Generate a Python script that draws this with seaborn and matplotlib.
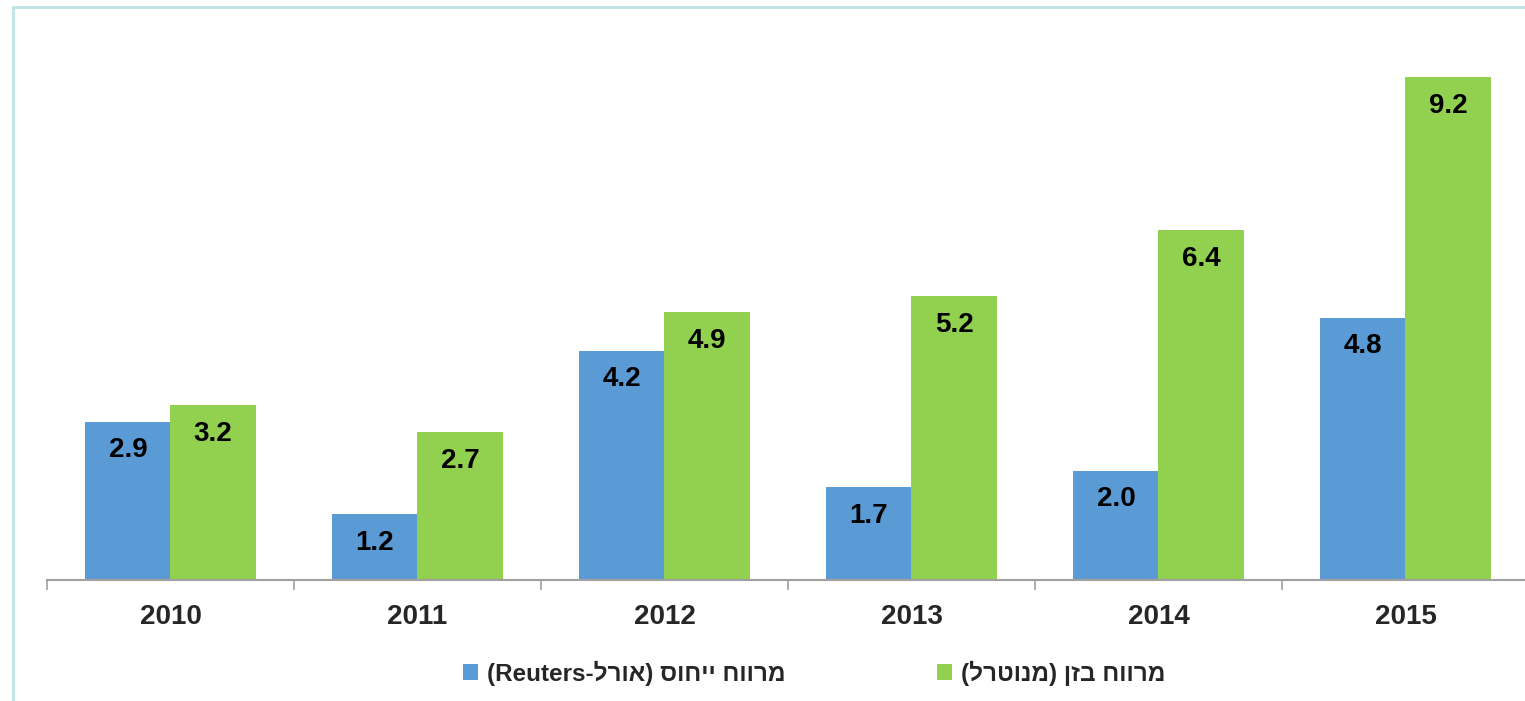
import pandas as pd
import numpy as np
import matplotlib
matplotlib.use('Agg')
import matplotlib.pyplot as plt
from matplotlib.lines import Line2D
from matplotlib.patches import Patch
import seaborn as sns
import re

# chart data
years = ['2010', '2011', '2012', '2013', '2014', '2015']
spread_reuters = [2.9, 1.2, 4.2, 1.7, 2.0, 4.8]
spread_bazan = [3.2, 2.7, 4.9, 5.2, 6.4, 9.2]
series_names = ['מרווח ייחוס (אורל-Reuters)', 'מרווח בזן (מנוטרל)']
series_colors = ['#5B9BD5', '#92D050']


def visual_rtl(text):
    # matplotlib has no bidi support: reverse the string, put latin runs back
    rev = text[::-1]
    rev = re.sub(r'[A-Za-z0-9.]+', lambda m: m.group(0)[::-1], rev)
    return rev.translate(str.maketrans('()', ')('))


df = pd.DataFrame({
    'Year': years * 2,
    'Value': spread_reuters + spread_bazan,
    'Series': [series_names[0]] * len(years) + [series_names[1]] * len(years),
})

sns.set_style('white')
plt.rcParams['font.family'] = ['Liberation Sans', 'DejaVu Sans']
plt.rcParams['font.weight'] = 'bold'

fig = plt.figure(figsize=(15.25, 7.01), dpi=100)
ax = fig.add_axes([47 / 1525, 121 / 701, (1529 - 47) / 1525, 560 / 701])

sns.barplot(data=df, x='Year', y='Value', hue='Series', hue_order=series_names,
            palette=series_colors, width=0.69, gap=0, saturation=1,
            edgecolor='none', linewidth=0, ax=ax, legend=False)

ax.set_xlim(-0.5, 5.5)
ax.set_ylim(0, 10.25)

# value labels inside the top of each bar
for cont in ax.containers:
    ax.bar_label(cont, fmt='%.1f', padding=-30, fontsize=20, fontweight='bold',
                 color='black')

# axis styling
for side in ['left', 'right', 'top']:
    ax.spines[side].set_visible(False)
ax.spines['bottom'].set_color('#A0A0A0')
ax.spines['bottom'].set_linewidth(1.5)
ax.set_yticks([])
ax.set_xlabel('')
ax.set_ylabel('')
ax.tick_params(axis='x', which='major', bottom=False, length=0, pad=17,
               labelsize=20)
ax.set_xticks(np.arange(-0.5, 6.0, 1.0), minor=True)
ax.tick_params(axis='x', which='minor', bottom=True, length=7, width=1.2,
               color='#A0A0A0', direction='out')
for lbl in ax.get_xticklabels():
    lbl.set_fontweight('bold')

# legend along the bottom
handles = [Patch(facecolor=c, edgecolor='none') for c in series_colors]
fig.legend(handles, [visual_rtl(s) for s in series_names],
           loc='center', bbox_to_anchor=(814 / 1525, 1 - 673 / 701), ncol=2,
           frameon=False, handlelength=0.62, handleheight=0.62,
           handletextpad=0.37, columnspacing=6.25,
           prop={'weight': 'bold', 'size': 17.5})

# light outer frame
frame_color = '#BEE3E3'
fig.add_artist(Line2D([13 / 1525, 13 / 1525], [0, 1 - 7 / 701],
                      transform=fig.transFigure, color=frame_color, linewidth=2))
fig.add_artist(Line2D([13 / 1525, 1], [1 - 7 / 701, 1 - 7 / 701],
                      transform=fig.transFigure, color=frame_color, linewidth=2))

fig.savefig('out.png', dpi=100)
